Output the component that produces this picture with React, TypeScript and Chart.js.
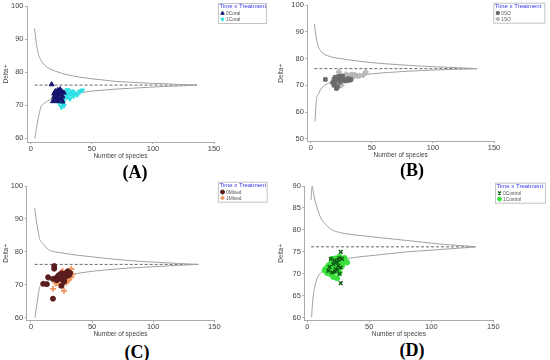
import React, { useEffect, useRef } from 'react';
import { Chart, registerables } from 'chart.js';
import { drawPoint } from 'chart.js/helpers';

Chart.register(...registerables);

const FONT = '"Liberation Sans", Arial, Helvetica, sans-serif';

// ---------- tick labels ----------
const xTicks = [0, 50, 100, 150];
const yTicksA = [60, 70, 80, 90, 100];
const yTicksB = [50, 60, 70, 80, 90, 100];
const yTicksC = [60, 70, 80, 90, 100];
const yTicksD = [60, 65, 70, 75, 80, 85, 90];

const xTitle = 'Number of species';
const yTitle = 'Delta+';
const legendTitle = 'Time x Treatment';

// ---------- panel A (Coral) ----------
const aUpper = [[3, 93.2], [4, 90], [5, 87.5], [6, 85.6], [8, 83.8], [10, 82.6], [15, 81.1], [20, 80.3], [25, 79.7], [30, 79.2], [40, 78.5], [50, 78.0], [60, 77.6], [70, 77.2], [80, 77.0], [90, 76.8], [100, 76.6], [110, 76.5], [120, 76.3], [130, 76.2], [136, 76.1]];
const aLower = [[3.3, 60], [4, 61.8], [5, 64], [6, 66], [7, 67.8], [8.5, 69.8], [10, 70.3], [12, 70.9], [15, 71.6], [20, 72.3], [25, 72.8], [30, 73.2], [40, 73.8], [50, 74.3], [60, 74.6], [70, 74.9], [80, 75.1], [90, 75.3], [100, 75.5], [110, 75.7], [120, 75.8], [130, 76.0], [136, 76.1]];
const aMean = [[3, 76.1], [136, 76.1]];
const a0Coral = [[17, 76.3], [18, 71.2], [19, 72.5], [19, 73.5], [20, 71.5], [20, 74.2], [21, 72.8], [21, 73.9], [22, 71.2], [22, 74.6], [23, 73.2], [23, 72.0], [24, 74.8], [24, 73.6], [25, 71.8], [25, 74.3], [26, 72.6], [27, 73.8], [26, 71.1], [22, 72.3]];
const a1Coral = [[22, 73.1], [23, 70.8], [24, 72.6], [25, 69.5], [25, 73.8], [26, 70.5], [26, 72.2], [27, 71.5], [28, 74.0], [29, 73.0], [30, 72.5], [31, 73.8], [32, 72.0], [33, 73.4], [34, 74.2], [35, 72.8], [36, 73.6], [38, 73.2], [40, 74.1], [42, 74.5], [30, 74.6], [27, 69.9]];

// ---------- panel B (SO) ----------
const bUpper = [[3, 93], [4, 89.5], [5, 86.8], [6, 84.8], [8, 83], [10, 82], [15, 80.9], [20, 80.3], [25, 80.0], [30, 79.6], [40, 79.0], [50, 78.5], [60, 78.1], [70, 77.8], [80, 77.5], [90, 77.2], [100, 77.0], [110, 76.8], [120, 76.6], [130, 76.4], [136, 76.25]];
const bLower = [[3.5, 56.5], [4, 60], [4.5, 64], [5, 65.5], [6, 66.5], [8, 68.3], [10, 69.5], [15, 70.9], [20, 71.9], [25, 72.5], [30, 73.0], [40, 73.8], [50, 74.3], [60, 74.7], [70, 75.0], [80, 75.3], [90, 75.5], [100, 75.7], [110, 75.9], [120, 76.0], [130, 76.15], [136, 76.25]];
const bMean = [[3, 76.25], [136, 76.25]];
const b0SO = [[12, 72.2], [18, 71.0], [19, 72.3], [20, 70.5], [20, 73.0], [21, 68.8], [21, 72.0], [22, 69.5], [22, 73.2], [23, 72.6], [24, 73.4], [25, 72.8], [26, 73.5], [27, 72.0], [28, 71.6], [29, 72.3], [30, 71.8], [31, 72.5], [32, 71.9], [33, 72.2], [19, 70.0], [24, 71.2]];
const b1SO = [[20, 71.5], [22, 72.5], [23, 75.0], [24, 73.8], [25, 70.0], [26, 73.2], [27, 72.4], [28, 73.6], [30, 73.0], [32, 73.8], [33, 72.6], [34, 74.0], [35, 73.3], [36, 73.9], [38, 73.5], [40, 73.6], [43, 73.8], [45, 75.0], [29, 74.1], [21, 69.8]];

// ---------- panel C (Mixed) ----------
const cUpper = [[3, 93.2], [4, 90.5], [5, 88], [6, 86], [7, 84], [8, 83.2], [10, 82.5], [12, 81.5], [15, 80.5], [20, 80.0], [25, 79.7], [30, 79.4], [40, 78.9], [50, 78.5], [60, 78.1], [70, 77.7], [80, 77.4], [90, 77.1], [100, 76.9], [110, 76.7], [120, 76.5], [130, 76.3], [137, 76.2]];
const cLower = [[3.3, 60], [4, 62], [5, 64.5], [6, 67], [7, 69.2], [8, 69.8], [10, 70.4], [15, 71.4], [20, 72.0], [25, 72.5], [30, 72.9], [40, 73.6], [50, 74.1], [60, 74.5], [70, 74.8], [80, 75.1], [90, 75.3], [100, 75.5], [110, 75.7], [120, 75.9], [130, 76.1], [137, 76.2]];
const cMean = [[3, 76.2], [137, 76.2]];
const c0Mixed = [[10, 70.3], [13, 70.2], [14, 72.3], [18, 65.8], [18, 71.8], [19, 75.7], [19, 74.9], [20, 72.0], [21, 71.4], [22, 72.6], [23, 73.0], [24, 71.8], [25, 69.7], [25, 73.5], [26, 72.2], [27, 70.9], [28, 73.4], [29, 72.6], [30, 74.1], [31, 72.9], [32, 73.6], [27, 71.4], [24, 72.8]];
const c1Mixed = [[18, 68.8], [20, 70.5], [22, 71.0], [23, 69.9], [24, 72.0], [25, 72.5], [25, 73.9], [26, 71.5], [27, 68.2], [27, 73.0], [28, 72.1], [29, 70.7], [29, 73.6], [30, 72.4], [31, 71.6], [31, 74.3], [32, 73.0], [33, 72.3], [33, 74.8], [34, 73.2], [30, 71.2], [26, 74.2], [20, 71.7]];

// ---------- panel D (Control) ----------
const dUpper = [[3, 86.8], [4, 90], [5, 88.5], [6, 87], [8, 85], [10, 83.3], [12, 82.2], [15, 81.2], [20, 80], [25, 79.5], [30, 79.2], [40, 78.8], [50, 78.5], [60, 78.2], [70, 77.9], [80, 77.6], [90, 77.3], [100, 77.0], [110, 76.7], [120, 76.5], [130, 76.3], [136, 76.15]];
const dLower = [[3.5, 60.1], [4, 62.5], [5, 65.5], [6, 67], [8, 69], [10, 70], [12, 70.5], [15, 70.8], [18, 71.0], [20, 71.8], [25, 72.7], [30, 73.3], [40, 73.8], [50, 74.1], [60, 74.4], [70, 74.7], [80, 75.0], [90, 75.2], [100, 75.4], [110, 75.6], [120, 75.8], [130, 76.0], [136, 76.15]];
const dMean = [[3, 76.15], [136, 76.15]];
const d0Control = [[19, 73.4], [18, 71.6], [20, 70.3], [21, 72.2], [22, 73.0], [23, 71.0], [24, 72.6], [25, 73.2], [26, 70.0], [26, 73.6], [27, 75.0], [27, 67.9], [27, 71.4], [28, 73.4], [24, 70.9], [22, 70.5], [17, 70.7], [25, 71.8]];
const d1Control = [[14, 70.8], [15, 71.2], [16, 70.2], [17, 71.9], [18, 70.5], [19, 69.9], [19, 72.3], [20, 71.5], [21, 69.3], [21, 73.1], [22, 72.0], [23, 70.6], [23, 73.5], [24, 69.0], [24, 72.8], [25, 71.2], [26, 73.9], [27, 72.5], [28, 71.8], [29, 73.0], [30, 73.6], [31, 72.8], [32, 72.6], [20, 73.4], [26, 70.3]];

const toPts = (a: number[][]) => a.map(([x, y]) => ({ x, y }));

const curve = (data: number[][], dashed = false) => ({
  data: toPts(data),
  showLine: true,
  borderColor: dashed ? '#6a6a6a' : '#a0a0a0',
  borderWidth: 1,
  borderDash: dashed ? [3, 2] : [],
  pointRadius: 0,
  fill: false,
  cubicInterpolationMode: 'monotone',
  order: 10,
});

const series = (label: string, data: number[][], style: string, fillC: string, strokeC: string, bw: number, radius: number, rot = 0) => ({
  label,
  data: toPts(data),
  showLine: false,
  pointStyle: style,
  pointBackgroundColor: fillC,
  pointBorderColor: strokeC,
  pointBorderWidth: bw,
  pointRadius: radius,
  pointRotation: rot,
  inLegend: true,
  order: 1,
});

const AXIS = '#ababab';
const TXT = '#444444';

const funnelLegend = {
  id: 'funnelLegend',
  afterDraw(chart: any, _args: any, opts: any) {
    if (!opts || opts.x === undefined) return;
    const { ctx } = chart;
    const items = chart.data.datasets.filter((d: any) => d.inLegend);
    ctx.save();
    const w = opts.w;
    const h = 20;
    ctx.fillStyle = '#ffffff';
    ctx.fillRect(opts.x, opts.y, w, h);
    ctx.strokeStyle = '#c4c4c4';
    ctx.lineWidth = 1;
    ctx.strokeRect(opts.x + 0.5, opts.y + 0.5, w, h);
    ctx.textBaseline = 'middle';
    ctx.textAlign = 'left';
    ctx.font = `6px ${FONT}`;
    ctx.fillStyle = '#3535ee';
    ctx.fillText(opts.title, opts.x + 1.5, opts.y + 3.6);
    items.forEach((d: any, i: number) => {
      const cy = opts.y + 10.3 + i * 6;
      ctx.fillStyle = d.pointBackgroundColor;
      ctx.strokeStyle = d.pointBorderColor;
      ctx.lineWidth = d.pointBorderWidth;
      drawPoint(ctx, { pointStyle: d.pointStyle, rotation: d.pointRotation || 0, radius: 2, borderWidth: d.pointBorderWidth } as any, opts.x + 4.5, cy);
      ctx.fillStyle = '#555555';
      ctx.font = `4.8px ${FONT}`;
      ctx.fillText(d.label, opts.x + 8, cy + 0.3);
    });
    ctx.restore();
  },
};

type PanelCfg = {
  left: number; top: number; width: number; height: number;
  area: { l: number; t: number; r: number; b: number };
  xMin: number; xMax: number; yMin: number; yMax: number;
  yTicks: number[];
  legend: { x: number; y: number; w: number };
  datasets: any[];
};

const panels: PanelCfg[] = [
  {
    left: 0, top: 0, width: 275, height: 160,
    area: { l: 27, t: 6, r: 214, b: 142 },
    xMin: -3.2, xMax: 150, yMin: 58.9, yMax: 100, yTicks: yTicksA,
    legend: { x: 218, y: 3, w: 48 },
    datasets: [
      series('0Coral', a0Coral, 'triangle', '#15156e', '#15156e', 1, 2.8),
      series('1Coral', a1Coral, 'triangle', '#2fe0e6', '#2fe0e6', 1, 2.8, 180),
      curve(aUpper), curve(aLower), curve(aMean, true),
    ],
  },
  {
    left: 275, top: 0, width: 275, height: 158.6,
    area: { l: 32.3, t: 5, r: 219, b: 140.7 },
    xMin: -2.8, xMax: 150, yMin: 49.1, yMax: 100, yTicks: yTicksB,
    legend: { x: 218.3, y: 2.7, w: 51 },
    datasets: [
      series('0SO', b0SO, 'rect', '#6b6b6b', '#6b6b6b', 1, 2.5),
      series('1SO', b1SO, 'rectRot', '#bdbdbd', '#b0b0b0', 1, 2.8),
      curve(bUpper), curve(bLower), curve(bMean, true),
    ],
  },
  {
    left: 0, top: 180, width: 275, height: 157.6,
    area: { l: 26.7, t: 6, r: 214.3, b: 140 },
    xMin: -3.5, xMax: 150, yMin: 59.2, yMax: 100, yTicks: yTicksC,
    legend: { x: 218, y: 1.7, w: 48.7 },
    datasets: [
      series('0Mixed', c0Mixed, 'circle', '#5a1c1c', '#5a1c1c', 1, 2.5),
      series('1Mixed', c1Mixed, 'cross', '#f29660', '#f29660', 1.8, 3),
      curve(cUpper), curve(cLower), curve(cMean, true),
    ],
  },
  {
    left: 275, top: 180, width: 275, height: 157.6,
    area: { l: 29.3, t: 6, r: 218.3, b: 140 },
    xMin: -2.4, xMax: 150, yMin: 59.4, yMax: 90, yTicks: yTicksD,
    legend: { x: 220, y: 2.7, w: 50 },
    datasets: [
      series('0Control', d0Control, 'crossRot', '#0d5a12', '#0d5a12', 1.4, 2.6),
      series('1Control', d1Control, 'circle', '#3be23b', '#3be23b', 1, 2.6),
      curve(dUpper), curve(dLower), curve(dMean, true),
    ],
  },
];

const panelLabels = ['(A)', '(B)', '(C)', '(D)'];
const labelPos = [[135, 172], [412, 170], [137, 352], [412, 350]];

function Panel({ cfg }: { cfg: PanelCfg }) {
  const ref = useRef<HTMLCanvasElement | null>(null);
  useEffect(() => {
    if (!ref.current) return;
    const { area, width, height } = cfg;
    const chart = new Chart(ref.current, {
      type: 'scatter',
      data: { datasets: cfg.datasets },
      options: {
        animation: false,
        responsive: false,
        maintainAspectRatio: false,
        layout: { padding: { top: area.t, right: width - area.r, left: 0, bottom: 0 } },
        plugins: {
          legend: { display: false },
          tooltip: { enabled: false },
          funnelLegend: { ...cfg.legend, title: legendTitle },
        } as any,
        scales: {
          x: {
            type: 'linear',
            min: cfg.xMin,
            max: cfg.xMax,
            afterBuildTicks: (s: any) => { s.ticks = xTicks.map((v) => ({ value: v })); },
            afterFit: (s: any) => { s.height = height - area.b; },
            grid: { display: true, drawOnChartArea: false, drawTicks: true, tickLength: 2, color: AXIS },
            border: { display: true, color: AXIS, width: 1 },
            ticks: { font: { size: 7.5, family: FONT, lineHeight: 1 }, color: TXT, padding: 1, maxRotation: 0, autoSkip: false },
            title: { display: true, text: xTitle, font: { size: 6.5, family: FONT, lineHeight: 1.2 }, color: TXT, padding: { top: 0, bottom: 0 } },
          },
          y: {
            type: 'linear',
            min: cfg.yMin,
            max: cfg.yMax,
            afterBuildTicks: (s: any) => { s.ticks = cfg.yTicks.map((v) => ({ value: v })); },
            afterFit: (s: any) => { s.width = area.l; },
            grid: { display: true, drawOnChartArea: false, drawTicks: true, tickLength: 2, color: AXIS },
            border: { display: true, color: AXIS, width: 1 },
            ticks: { font: { size: 7.5, family: FONT, lineHeight: 1 }, color: TXT, padding: 1.5, autoSkip: false },
            title: { display: true, text: yTitle, font: { size: 6.5, family: FONT, lineHeight: 1.2 }, color: TXT, padding: { top: 2.5, bottom: 0 } },
          },
        },
      } as any,
      plugins: [funnelLegend as any],
    });
    return () => chart.destroy();
  }, [cfg]);
  return (
    <canvas
      ref={ref}
      width={cfg.width}
      height={Math.round(cfg.height)}
      style={{ position: 'absolute', left: cfg.left, top: cfg.top, width: cfg.width, height: Math.round(cfg.height) }}
    />
  );
}

export default function App() {
  return (
    <div style={{ position: 'fixed', left: 0, top: 0, width: 550, height: 360, background: '#ffffff', overflow: 'hidden' }}>
      {panels.map((p, i) => (
        <Panel key={i} cfg={p} />
      ))}
      {panelLabels.map((t, i) => (
        <div
          key={t}
          style={{
            position: 'absolute',
            left: labelPos[i][0] - 30,
            top: labelPos[i][1] - 11,
            width: 60,
            height: 22,
            lineHeight: '22px',
            textAlign: 'center',
            fontFamily: '"Liberation Serif", "Times New Roman", serif',
            fontWeight: 'bold',
            fontSize: 18,
            color: '#000',
          }}
        >
          {t}
        </div>
      ))}
    </div>
  );
}
